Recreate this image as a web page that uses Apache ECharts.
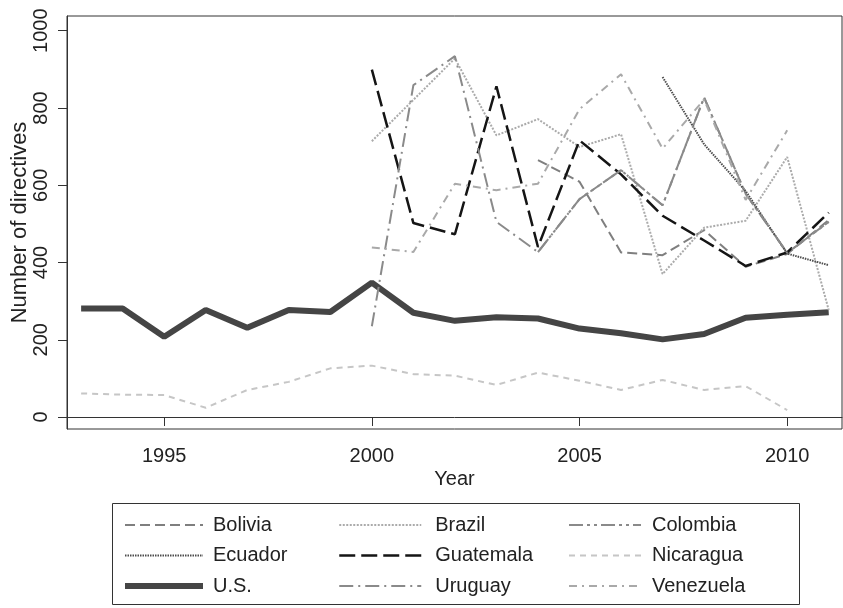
<!DOCTYPE html>
<html>
<head>
<meta charset="utf-8">
<script src="https://cdn.jsdelivr.net/npm/echarts@6/dist/echarts.min.js"></script>
<style>html,body{margin:0;padding:0;background:#fff;}#c{width:843px;height:608px;}</style>
</head>
<body>
<div id="c"></div>
<script>
var years = [1993,1994,1995,1996,1997,1998,1999,2000,2001,2002,2003,2004,2005,2006,2007,2008,2009,2010,2011];
var xTicks = [1995, 2000, 2005, 2010];
var yTicks = [0, 200, 400, 600, 800, 1000];
var bolivia   = [null,null,null,null,null,null,null,null,null,null,null,665,609,426,419,484,389,422,510];
var brazil    = [null,null,null,null,null,null,null,714,821,928,729,771,699,732,370,490,508,673,277];
var colombia  = [null,null,null,null,null,null,null,null,null,null,null,427,564,639,548,827,578,425,505];
var ecuador   = [null,null,null,null,null,null,null,null,null,null,null,null,null,null,880,706,585,423,393];
var guatemala = [null,null,null,null,null,null,null,899,502,473,856,440,716,628,521,457,391,426,529];
var nicaragua = [61,58,57,24,70,91,126,133,111,107,83,115,94,70,96,70,80,18,null];
var us        = [281,281,208,277,231,277,272,348,270,249,258,255,229,217,201,215,257,265,271];
var uruguay   = [null,null,null,null,null,null,null,235,859,934,505,427,564,639,548,827,578,425,505];
var venezuela = [null,null,null,null,null,null,null,439,427,604,587,604,797,887,695,822,562,742,null];

function pairs(vals){ return years.map(function(y,i){ return [y, vals[i]]; }); }
var FONT = 'Liberation Sans, Arial, sans-serif';
var styles = {
  'Bolivia':   {color:'#7f7f7f', width:2,   type:[10,5]},
  'Brazil':    {color:'#ababab', width:2,   type:[2,1.5]},
  'Colombia':  {color:'#8a8a8a', width:2,   type:[14,4,3,4,3,4]},
  'Ecuador':   {color:'#4d4d4d', width:2,   type:[1.5,1]},
  'Guatemala': {color:'#151515', width:2.5, type:[16,6]},
  'Nicaragua': {color:'#c6c6c6', width:2,   type:[6,5]},
  'U.S.':      {color:'#454545', width:6,   type:'solid'},
  'Uruguay':   {color:'#8a8a8a', width:2,   type:[14,5,2,5]},
  'Venezuela': {color:'#a9a9a9', width:2,   type:[8,5,2,5]}
};
function mk(name, vals){
  var s = styles[name];
  return {name:name, type:'line', data:pairs(vals), symbol:'none', showSymbol:false,
    connectNulls:false, lineStyle:{color:s.color, width:s.width, type:s.type, cap:'butt'},
    itemStyle:{color:s.color}, z: (name==='U.S.'?1:2)};
}
var series = [
  mk('Bolivia', bolivia), mk('Brazil', brazil), mk('Colombia', colombia),
  mk('Ecuador', ecuador), mk('Guatemala', guatemala), mk('Nicaragua', nicaragua),
  mk('U.S.', us), mk('Uruguay', uruguay), mk('Venezuela', venezuela)
];
function leg(left, names, w, gap){
  return {orient:'vertical', left:left, top:515, padding:0, itemWidth:w, itemHeight:14, itemGap:10.5,
    data:names.map(function(n){ var s=styles[n]; return {name:n, itemStyle:{opacity:0}, lineStyle:{color:s.color, width:s.width, type:s.type, cap:'butt'}}; }),
    selectedMode:false, itemStyle:{opacity:0},
    textStyle:{fontFamily:FONT, fontSize:20, color:'#222', lineHeight:20, padding:[0,0,0,gap]}};
}
var chart = echarts.init(document.getElementById('c'));
chart.setOption({
  animation:false,
  backgroundColor:'#fff',
  grid:{left:67, right:1, top:16, bottom:179, show:true, borderColor:'#333', borderWidth:1,
    containLabel:false, outerBoundsMode:'none'},
  xAxis:{type:'value', min:1992.66, max:2011.32, name:'Year', nameLocation:'middle', nameGap:40,
    nameMoveOverlap:false,
    nameTextStyle:{fontFamily:FONT, fontSize:20, color:'#222'},
    axisLine:{show:true, lineStyle:{color:'#333', width:1}},
    axisTick:{show:true, length:9, lineStyle:{color:'#333'}, customValues:xTicks},
    axisLabel:{fontFamily:FONT, fontSize:20, color:'#222', margin:17, customValues:xTicks,
      formatter:function(v){return String(v);}},
    splitLine:{show:false}},
  yAxis:{type:'value', min:-31, max:1038, name:'Number of directives', nameLocation:'middle', nameGap:36,
    nameRotate:90, nameMoveOverlap:false,
    nameTextStyle:{fontFamily:FONT, fontSize:22, color:'#222'},
    axisLine:{show:true, lineStyle:{color:'#333', width:1}},
    axisTick:{show:true, length:9, lineStyle:{color:'#333'}, customValues:yTicks},
    axisLabel:{fontFamily:FONT, fontSize:20, color:'#222', margin:16, rotate:90, customValues:yTicks,
      formatter:function(v){return String(v);}},
    splitLine:{show:false}},
  legend:[
    leg(122, ['Bolivia','Ecuador','U.S.'], 78, 5),
    leg(338, ['Brazil','Guatemala','Uruguay'], 82, 9),
    leg(568, ['Colombia','Nicaragua','Venezuela'], 72, 6)
  ],
  graphic:[{type:'rect', shape:{x:112.5, y:503.5, width:687, height:101}, style:{fill:'none', stroke:'#333', lineWidth:1}, silent:true}],
  series:series
});
</script>
</body>
</html>
